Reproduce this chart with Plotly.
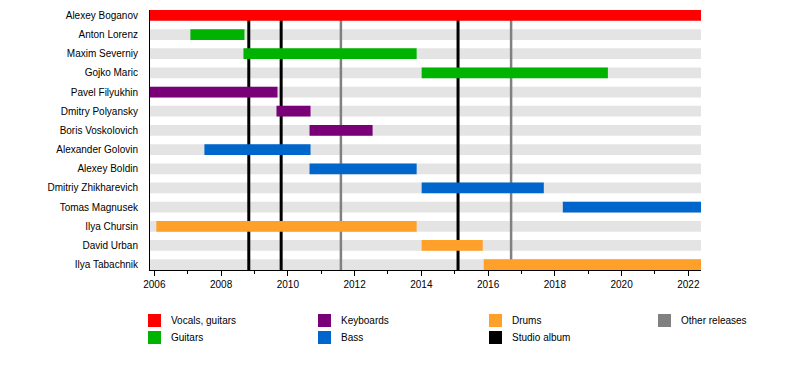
import plotly.graph_objects as go

# ---------------- data ----------------
members = ["Alexey Boganov", "Anton Lorenz", "Maxim Severniy", "Gojko Maric",
           "Pavel Filyukhin", "Dmitry Polyansky", "Boris Voskolovich",
           "Alexander Golovin", "Alexey Boldin", "Dmitriy Zhikharevich",
           "Tomas Magnusek", "Ilya Chursin", "David Urban", "Ilya Tabachnik"]
roles = ["Vocals, guitars", "Guitars", "Guitars", "Guitars",
         "Keyboards", "Keyboards", "Keyboards",
         "Bass", "Bass", "Bass", "Bass",
         "Drums", "Drums", "Drums"]
period_start = 2005.87
period_end = 2022.38
starts = [2005.87, 2007.08, 2008.67, 2014.01, 2005.87, 2009.66, 2010.65,
          2007.50, 2010.65, 2014.01, 2018.24, 2006.06, 2014.01, 2015.87]
ends = [2022.38, 2008.70, 2013.86, 2019.59, 2009.69, 2010.68, 2012.54,
        2010.68, 2013.86, 2017.67, 2022.38, 2013.86, 2015.84, 2022.38]
studio_albums = [2008.83, 2009.80, 2015.10]
other_releases = [2011.59, 2016.69]
year_ticks = list(range(2006, 2023, 2))

role_colors = {
    "Vocals, guitars": "#ff0000",
    "Guitars": "#00b300",
    "Keyboards": "#7a0078",
    "Bass": "#0066cc",
    "Drums": "#ffa02a",
    "Studio album": "#000000",
    "Other releases": "#808080",
}
legend_columns = [["Vocals, guitars", "Guitars"], ["Keyboards", "Bass"],
                  ["Drums", "Studio album"], ["Other releases"]]

# ---------------- geometry ----------------
W, H = 800, 390
ML, MR, MT, MB = 150, 99, 10, 120
PW, PH = W - ML - MR, H - MT - MB
BAR_W = 0.56
n = len(members)
rows = list(range(n))
y_lo, y_hi = -BAR_W / 2, (n - 1) + BAR_W / 2
FONT = "Arial, Liberation Sans, sans-serif"

fig = go.Figure()

# background gray bars
fig.add_trace(go.Bar(
    y=rows, base=[period_start] * n, x=[period_end - period_start] * n,
    orientation="h", width=BAR_W, marker=dict(color="#e4e4e4", line=dict(width=0)),
    showlegend=False, hoverinfo="skip", xaxis="x", yaxis="y"))


def vlines(xs):
    lx, ly = [], []
    for v in xs:
        lx += [v, v, None]
        ly += [y_lo, y_hi, None]
    return lx, ly


lx, ly = vlines(other_releases)
fig.add_trace(go.Scatter(x=lx, y=ly, mode="lines",
                         line=dict(color=role_colors["Other releases"], width=2.5),
                         showlegend=False, hoverinfo="skip", xaxis="x", yaxis="y"))
lx, ly = vlines(studio_albums)
fig.add_trace(go.Scatter(x=lx, y=ly, mode="lines",
                         line=dict(color=role_colors["Studio album"], width=3),
                         showlegend=False, hoverinfo="skip", xaxis="x", yaxis="y"))

# member bars on overlaid axis (drawn above lines)
for role in ["Vocals, guitars", "Guitars", "Keyboards", "Bass", "Drums"]:
    idx = [i for i, r in enumerate(roles) if r == role]
    fig.add_trace(go.Bar(
        y=[rows[i] for i in idx], base=[starts[i] for i in idx],
        x=[ends[i] - starts[i] for i in idx], orientation="h", width=BAR_W,
        marker=dict(color=role_colors[role], line=dict(width=0)),
        showlegend=False, hoverinfo="skip", xaxis="x", yaxis="y2"))

fig.update_layout(
    width=W, height=H, margin=dict(l=ML, r=MR, t=MT, b=MB),
    paper_bgcolor="white", plot_bgcolor="white",
    font=dict(family=FONT, size=10, color="black"),
    barmode="overlay", hovermode=False, showlegend=False,
    xaxis=dict(range=[period_start, period_end], tickvals=year_ticks,
               tickformat="d", ticks="outside", ticklen=5, tickcolor="black",
               showline=True, linecolor="black", linewidth=1,
               showgrid=False, zeroline=False,
               minor=dict(dtick=1, tick0=2006, ticks="outside", ticklen=3,
                          tickcolor="black", showgrid=False)),
    yaxis=dict(range=[y_hi, y_lo], tickvals=rows, ticktext=members,
               ticks="", showline=True, linecolor="black", linewidth=1,
               showgrid=False, zeroline=False, ticklabelstandoff=9),
    yaxis2=dict(range=[y_hi, y_lo], overlaying="y", visible=False,
                showgrid=False, zeroline=False),
)

# legend (manual, column-major like the original)
def px_x(p):
    return (p - ML) / PW


def px_y(p):
    return (H - MB - p) / PH


col_x = [148, 318, 489, 658]
row_y = [314, 331]
SQ = 13
for c, col in enumerate(legend_columns):
    for r, name in enumerate(col):
        x0, y0 = col_x[c], row_y[r]
        fig.add_shape(type="rect", xref="paper", yref="paper",
                      x0=px_x(x0), x1=px_x(x0 + SQ), y0=px_y(y0 + SQ), y1=px_y(y0),
                      fillcolor=role_colors[name], line=dict(width=0))
        fig.add_annotation(xref="paper", yref="paper", x=px_x(x0 + SQ + 8),
                           y=px_y(y0 + SQ / 2), text=name, showarrow=False,
                           xanchor="left", yanchor="middle",
                           font=dict(family=FONT, size=10, color="black"))

fig.write_html("out.html", config={"displayModeBar": False, "staticPlot": True},
               post_script="document.body.style.margin='0';document.body.style.overflow='hidden';")
